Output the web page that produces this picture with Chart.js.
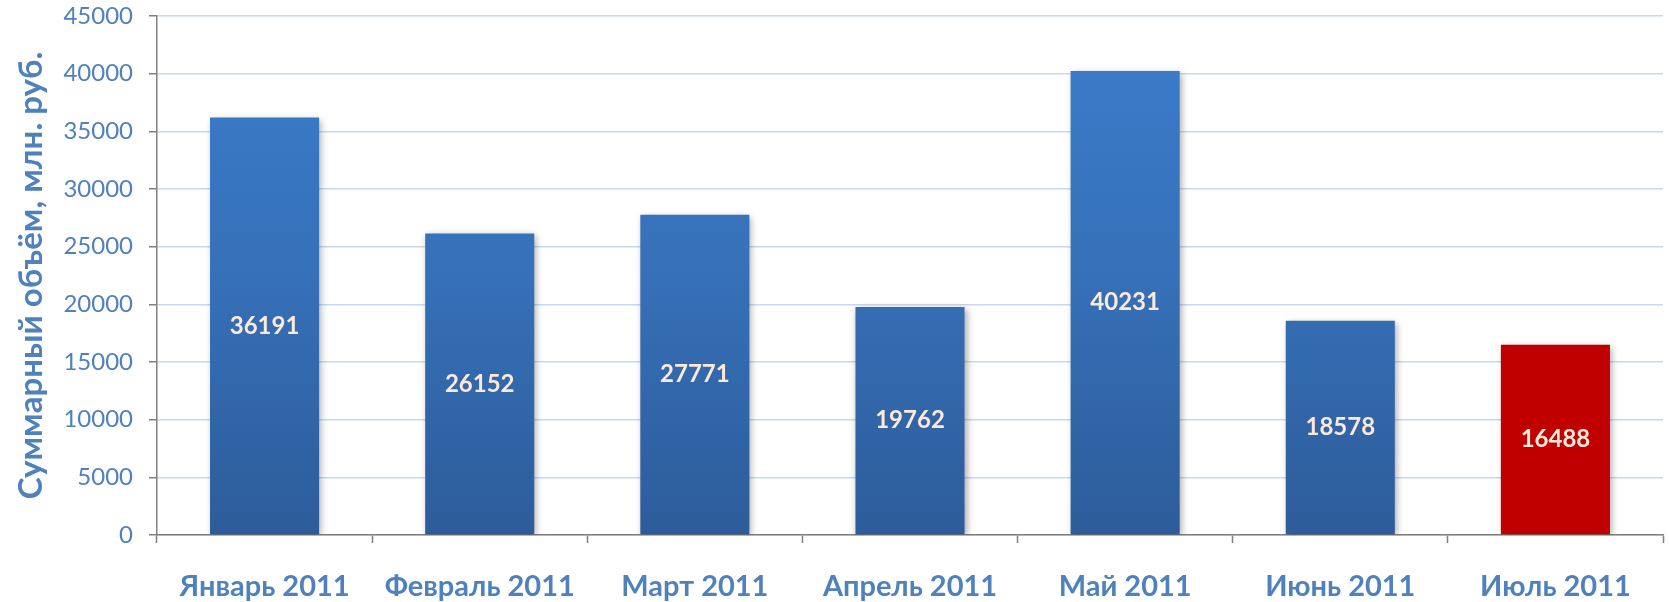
<!DOCTYPE html>
<html>
<head>
<meta charset="utf-8">
<script src="https://cdn.jsdelivr.net/npm/chart.js@4"></script>
<style>
  html, body { margin: 0; padding: 0; background: #fff; }
  #wrap { width: 1669px; height: 602px; }
</style>
</head>
<body>
<div id="wrap"><canvas id="chart"></canvas></div>
<script>
// данные с диаграммы
const months = ['Январь 2011', 'Февраль 2011', 'Март 2011', 'Апрель 2011', 'Май 2011', 'Июнь 2011', 'Июль 2011'];
const volumes = [36191, 26152, 27771, 19762, 40231, 18578, 16488];
const highlight = [false, false, false, false, false, false, true];
const yTitle = 'Суммарный объём, млн. руб.';

const blue = '#4F81BD';

function barFill(context) {
    const i = context.dataIndex;
    if (highlight[i]) return '#C00000';
    const chart = context.chart;
    const area = chart.chartArea;
    if (!area) return '#3A75BE';
    const meta = chart.getDatasetMeta(0);
    const el = meta.data[i];
    const top = el && isFinite(el.y) ? el.y : area.top;
    const bottom = area.bottom;
    const g = chart.ctx.createLinearGradient(0, top, 0, bottom);
    g.addColorStop(0, '#3B7DCC');
    g.addColorStop(0.5, '#3670B8');
    g.addColorStop(1, '#2D5C9A');
    return g;
}

// тень под столбцами
const shadowPlugin = {
    id: 'barShadow',
    beforeDatasetsDraw(chart) {
        const ctx = chart.ctx;
        ctx.save();
        ctx.shadowColor = 'rgba(0,0,0,0.35)';
        ctx.shadowBlur = 7;
        ctx.shadowOffsetX = 2;
        ctx.shadowOffsetY = 2;
    },
    afterDatasetsDraw(chart) {
        chart.ctx.restore();
    }
};

// подписи значений в середине столбца
const valueLabels = {
    id: 'valueLabels',
    afterDatasetsDraw(chart) {
        const ctx = chart.ctx;
        const meta = chart.getDatasetMeta(0);
        ctx.save();
        ctx.font = 'bold 24px Lato, "Open Sans", sans-serif';
        ctx.fillStyle = '#FBEADA';
        ctx.textAlign = 'center';
        ctx.textBaseline = 'middle';
        meta.data.forEach((bar, i) => {
            const y = (bar.y + bar.base) / 2;
            ctx.fillText(String(volumes[i]), bar.x, y);
        });
        ctx.restore();
    }
};

new Chart(document.getElementById('chart'), {
    type: 'bar',
    data: {
        labels: months,
        datasets: [{
            data: volumes,
            backgroundColor: barFill,
            barPercentage: 0.507,
            categoryPercentage: 1
        }]
    },
    options: {
        responsive: true,
        maintainAspectRatio: false,
        animation: false,
        layout: { padding: { top: 16, right: 6, left: 0, bottom: 0 } },
        plugins: { legend: { display: false }, tooltip: { enabled: false } },
        scales: {
            x: {
                offset: true,
                grid: {
                    offset: true,
                    drawOnChartArea: false,
                    tickLength: 8,
                    tickColor: '#808080',
                    tickWidth: 1.5
                },
                border: { color: '#808080', width: 1.5 },
                ticks: {
                    color: blue,
                    padding: 26,
                    font: { family: 'Lato, "Open Sans", sans-serif', size: 29, weight: 'bold' }
                },
                afterFit(scale) {
                    scale.height = 67;
                    scale.paddingLeft = 0;
                    scale.paddingRight = 0;
                }
            },
            y: {
                min: 0,
                max: 45000,
                ticks: {
                    stepSize: 5000,
                    color: blue,
                    padding: 16,
                    font: { family: 'Lato, "Open Sans", sans-serif', size: 24 },
                    callback: v => String(v)
                },
                grid: {
                    color: '#C6D9F1',
                    lineWidth: 1.5,
                    tickLength: 8,
                    tickColor: '#808080',
                    tickWidth: 1.5
                },
                border: { color: '#808080', width: 1.5 },
                title: {
                    display: true,
                    text: yTitle,
                    color: blue,
                    padding: { top: 12, bottom: 0 },
                    font: { family: 'Lato, "Open Sans", sans-serif', size: 33, weight: 'bold' }
                },
                afterFit(scale) {
                    scale.width = 157;
                    scale.paddingTop = 0;
                    scale.paddingBottom = 0;
                }
            }
        }
    },
    plugins: [shadowPlugin, valueLabels]
});
</script>
</body>
</html>
